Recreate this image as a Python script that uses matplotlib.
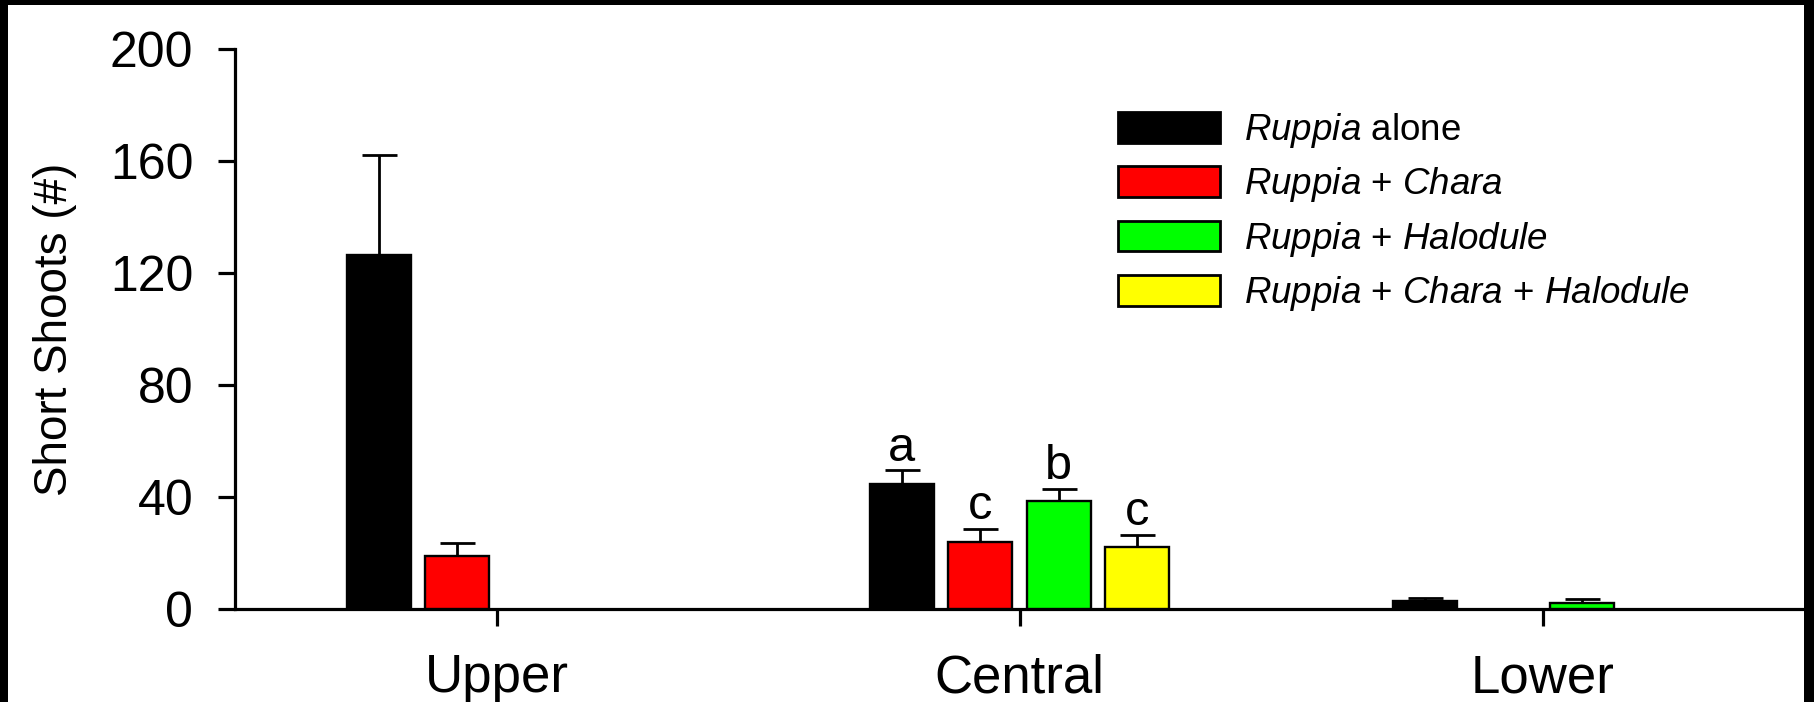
import numpy as np
import matplotlib
matplotlib.use("Agg")
import matplotlib.pyplot as plt
from matplotlib.patches import Patch, Rectangle

plt.rcParams['font.family'] = ['Liberation Sans', 'DejaVu Sans']
plt.rcParams['mathtext.fontset'] = 'custom'
plt.rcParams['mathtext.it'] = 'Liberation Sans:italic'
plt.rcParams['mathtext.rm'] = 'Liberation Sans'

# short shoot counts per zone and treatment (mean, upper SE)
zones = ["Upper", "Central", "Lower"]
treatments = [r"$\it{Ruppia}$ alone",
              r"$\it{Ruppia}$ + $\it{Chara}$",
              r"$\it{Ruppia}$ + $\it{Halodule}$",
              r"$\it{Ruppia}$ + $\it{Chara}$ + $\it{Halodule}$"]
colors = ["#000000", "#ff0000", "#00ff00", "#ffff00"]

ruppia_alone = [126.5, 44.5, 3.0]
ruppia_chara = [19.0, 24.0, np.nan]
ruppia_halodule = [np.nan, 38.5, 2.0]
ruppia_chara_halodule = [np.nan, 22.0, np.nan]

err_alone = [35.5, 5.0, 1.0]
err_chara = [4.5, 4.5, np.nan]
err_halodule = [np.nan, 4.5, 1.5]
err_chara_halodule = [np.nan, 4.5, np.nan]

# significance letters for the central zone
central_letters = ["a", "c", "b", "c"]

means = [ruppia_alone, ruppia_chara, ruppia_halodule, ruppia_chara_halodule]
errs = [err_alone, err_chara, err_halodule, err_chara_halodule]

W, H = 1814, 702
fig = plt.figure(figsize=(W / 100, H / 100), dpi=100, facecolor="black")
fig.patches.append(Rectangle((8 / W, 0), (1804 - 8) / W, (H - 5) / H,
                             transform=fig.transFigure, facecolor="white",
                             edgecolor="none", zorder=-10))

ax = fig.add_axes([235 / W, (H - 609) / H, (1804 - 235) / W, (609 - 49) / H])
ax.set_facecolor("none")

x = np.arange(len(zones))
step = 0.15
width = 0.122
for i, (m, e, c) in enumerate(zip(means, errs, colors)):
    xi = x + (i - 1.5) * step
    ax.bar(xi, m, width, color=c, edgecolor="black", linewidth=1.7, zorder=3)
    ax.errorbar(xi, m, yerr=[np.zeros(len(e)), e], fmt="none", ecolor="black",
                elinewidth=2.0, capsize=12.6, capthick=2.0, zorder=2)
    top = m[1] + e[1]
    ax.text(xi[1], top + 3.5, central_letters[i], ha="center", va="baseline",
            fontsize=35)

ax.set_xlim(-0.5, 2.5)
ax.set_ylim(0, 200)
ax.set_yticks([0, 40, 80, 120, 160, 200])
ax.set_xticks(x)
ax.set_xticklabels(zones)

for s in ["top", "right"]:
    ax.spines[s].set_visible(False)
for s in ["left", "bottom"]:
    ax.spines[s].set_linewidth(2.3)

ax.tick_params(axis="y", direction="out", length=12, width=2.3, pad=18,
               labelsize=36)
ax.tick_params(axis="x", direction="out", length=12, width=2.3, pad=20,
               labelsize=38)

ax.set_ylabel("Short Shoots (#)", fontsize=33)
ax.yaxis.set_label_coords(-0.101, 0.5)

handles = [Patch(facecolor=c, edgecolor="black", linewidth=2.0) for c in colors]
ax.legend(handles, treatments, loc="upper left",
          bbox_to_anchor=(1118 / W, 1 - 111 / H), bbox_transform=fig.transFigure,
          frameon=False, fontsize=26.5, handlelength=2.77, handleheight=0.9,
          handletextpad=0.65, labelspacing=0.42, borderpad=0, borderaxespad=0)

fig.savefig("out.png", dpi=100, facecolor=fig.get_facecolor())
